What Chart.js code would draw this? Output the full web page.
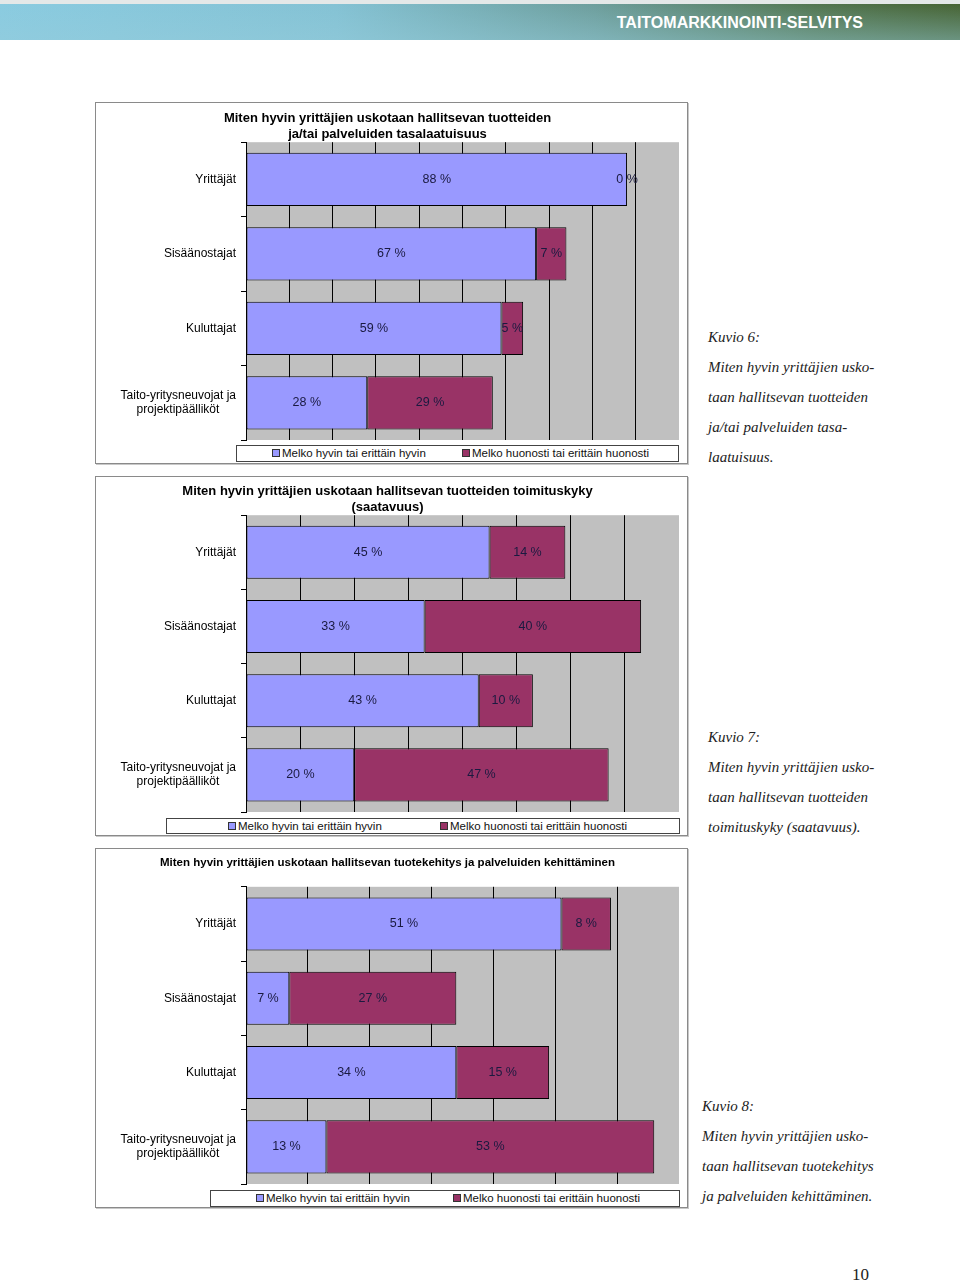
<!DOCTYPE html>
<html>
<head>
<meta charset="utf-8">
<script src="https://cdn.jsdelivr.net/npm/chart.js@4.4.1/dist/chart.umd.min.js"></script>
<style>
  body { margin: 0; width: 960px; height: 1283px; position: relative; background: #fff; overflow: hidden;
         font-family: "Liberation Sans", Arial, sans-serif; }
  .topline { position: absolute; left: 0; top: 0; width: 960px; height: 4px; background: #e4e8e8; }
  .band { position: absolute; left: 0; top: 4px; width: 960px; height: 36px;
          background: linear-gradient(to bottom, rgba(255,255,255,0) 0%, rgba(150,205,220,0.45) 100%),
                      linear-gradient(to right, #8acbe0 0%, #84c2d4 35%, #6d9e9c 62%, #52754f 85%, #476434 100%); }
  .band span { position: absolute; right: 97px; top: 10px; color: #fff; font-weight: bold; font-size: 16px; }
  .box { position: absolute; left: 95px; width: 591px; border: 1px solid #8a8a8a; box-shadow: 1px 1px 0 #c8c8c8; background: #fff; }
  .box canvas { display: block; }
  .legend { position: absolute; border: 1px solid #444; background: #fff; font-size: 11.5px; color: #111; }
  .item { position: absolute; top: 1px; white-space: nowrap; }
  .sw { display: inline-block; width: 6px; height: 6px; border: 1px solid #333; margin-right: 2px; }
  .cap { position: absolute; font-family: "Liberation Serif", "DejaVu Serif", serif; font-style: italic;
         font-size: 15px; line-height: 30px; color: #222; }
  .pnum { position: absolute; left: 852px; top: 1265px; font-family: "Liberation Serif", serif; font-size: 17px; color: #222; }
</style>
</head>
<body>
<div class="topline"></div>
<div class="band"><span>TAITOMARKKINOINTI-SELVITYS</span></div>

<div class="box" style="top:102px;height:360px"><canvas id="quality" width="591" height="360"></canvas></div>
<div class="legend" style="left:236px;top:445px;width:441px;height:15px">
  <div class="item" style="left:35px"><span class="sw" style="background:#9999ff"></span>Melko hyvin tai erittäin hyvin</div>
  <div class="item" style="left:225px"><span class="sw" style="background:#993366"></span>Melko huonosti tai erittäin huonosti</div>
</div>

<div class="box" style="top:476px;height:358px"><canvas id="delivery" width="591" height="358"></canvas></div>
<div class="legend" style="left:166px;top:818px;width:512px;height:14px">
  <div class="item" style="left:61px"><span class="sw" style="background:#9999ff"></span>Melko hyvin tai erittäin hyvin</div>
  <div class="item" style="left:273px"><span class="sw" style="background:#993366"></span>Melko huonosti tai erittäin huonosti</div>
</div>

<div class="box" style="top:848px;height:358px"><canvas id="devel" width="591" height="358"></canvas></div>
<div class="legend" style="left:210px;top:1190px;width:468px;height:15px">
  <div class="item" style="left:45px"><span class="sw" style="background:#9999ff"></span>Melko hyvin tai erittäin hyvin</div>
  <div class="item" style="left:242px"><span class="sw" style="background:#993366"></span>Melko huonosti tai erittäin huonosti</div>
</div>

<div class="cap" style="left:708px;top:322px">Kuvio 6:<br>Miten hyvin yrittäjien usko-<br>taan hallitsevan tuotteiden<br>ja/tai palveluiden tasa-<br>laatuisuus.</div>
<div class="cap" style="left:708px;top:722px">Kuvio 7:<br>Miten hyvin yrittäjien usko-<br>taan hallitsevan tuotteiden<br>toimituskyky (saatavuus).</div>
<div class="cap" style="left:702px;top:1091px">Kuvio 8:<br>Miten hyvin yrittäjien usko-<br>taan hallitsevan tuotekehitys<br>ja palveluiden kehittäminen.</div>
<div class="pnum">10</div>

<script>
// Categories and series shared by all three charts
const categories = ['Yrittäjät', 'Sisäänostajat', 'Kuluttajat', ['Taito-yritysneuvojat ja', 'projektipäälliköt\u00a0\u00a0\u00a0\u00a0\u00a0']];
const seriesNames = ['Melko hyvin tai erittäin hyvin', 'Melko huonosti tai erittäin huonosti'];

// Kuvio 6: tasalaatuisuus
const qualityTitle = ['Miten hyvin yrittäjien uskotaan hallitsevan tuotteiden', 'ja/tai palveluiden tasalaatuisuus'];
const qualityGood = [88, 67, 59, 28];
const qualityBad = [0, 7, 5, 29];

// Kuvio 7: toimituskyky
const deliveryTitle = ['Miten hyvin yrittäjien uskotaan hallitsevan tuotteiden toimituskyky', '(saatavuus)'];
const deliveryGood = [45, 33, 43, 20];
const deliveryBad = [14, 40, 10, 47];

// Kuvio 8: tuotekehitys
const develTitle = ['Miten hyvin yrittäjien uskotaan hallitsevan tuotekehitys ja palveluiden kehittäminen'];
const develGood = [51, 7, 34, 13];
const develBad = [8, 27, 15, 53];

// Grey Excel-style plot area
const plotBackground = {
  id: 'plotBackground',
  beforeDraw(chart) {
    const a = chart.chartArea;
    chart.ctx.save();
    chart.ctx.fillStyle = '#c0c0c0';
    chart.ctx.fillRect(a.left, a.top, a.right - a.left, a.bottom - a.top);
    chart.ctx.restore();
  }
};

// Percent labels in the middle of each segment
const segmentLabels = {
  id: 'segmentLabels',
  afterDatasetsDraw(chart) {
    const ctx = chart.ctx;
    ctx.save();
    ctx.font = '12.5px "Liberation Sans", Arial, sans-serif';
    ctx.fillStyle = '#1a1a40';
    ctx.textAlign = 'center';
    ctx.textBaseline = 'middle';
    chart.data.datasets.forEach((ds, i) => {
      chart.getDatasetMeta(i).data.forEach((bar, j) => {
        ctx.fillText(ds.data[j] + ' %', (bar.x + bar.base) / 2, bar.y);
      });
    });
    ctx.restore();
  }
};

function makeChart(id, title, good, bad, max, titleSize, titlePad) {
  return new Chart(document.getElementById(id), {
    type: 'bar',
    data: {
      labels: categories,
      datasets: [
        { label: seriesNames[0], data: good, backgroundColor: '#9999ff' },
        { label: seriesNames[1], data: bad, backgroundColor: '#993366' }
      ]
    },
    options: {
      indexAxis: 'y',
      responsive: false,
      animation: false,
      layout: { padding: { top: 0, right: 8, bottom: 23, left: 0 } },
      datasets: {
        bar: { borderColor: '#000', borderWidth: 1, borderSkipped: false, categoryPercentage: 1, barPercentage: 0.715 }
      },
      plugins: {
        legend: { display: false },
        tooltip: { enabled: false },
        title: {
          display: true,
          text: title,
          color: '#000',
          font: { family: '"Liberation Sans", Arial, sans-serif', size: titleSize, weight: 'bold' },
          lineHeight: 1.18,
          padding: titlePad
        }
      },
      scales: {
        x: {
          stacked: true,
          min: 0,
          max: max,
          ticks: { display: false, stepSize: 10 },
          border: { display: false },
          grid: {
            drawTicks: false,
            lineWidth: 1,
            color: c => (c.tick && c.tick.value === max) ? 'rgba(0,0,0,0)' : '#000'
          }
        },
        y: {
          stacked: true,
          offset: true,
          ticks: { color: '#000', padding: 5, font: { family: '"Liberation Sans", Arial, sans-serif', size: 12 } },
          border: { display: true, color: '#000' },
          grid: { offset: true, drawOnChartArea: false, drawTicks: true, tickLength: 5, color: '#000' },
          afterFit(scale) { scale.width = 150; }
        }
      }
    },
    plugins: [plotBackground, segmentLabels]
  });
}

makeChart('quality', qualityTitle, qualityGood, qualityBad, 100, 13, { top: 8, bottom: 0 });
makeChart('delivery', deliveryTitle, deliveryGood, deliveryBad, 80, 13, { top: 7, bottom: 0 });
makeChart('devel', develTitle, develGood, develBad, 70, 11.5, { top: 7, bottom: 17 });
</script>
</body>
</html>
